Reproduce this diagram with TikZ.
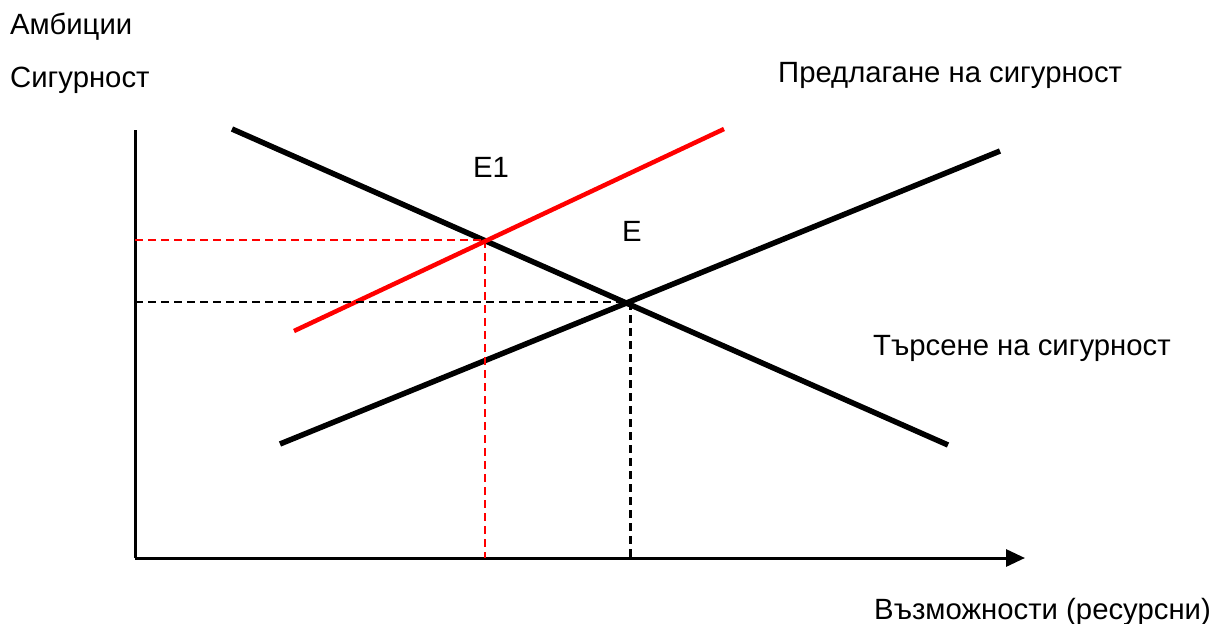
\documentclass[tikz,border=0pt]{standalone}
\usepackage{fontspec}
\setmainfont{Liberation Sans}
\usetikzlibrary{arrows.meta}
\begin{document}
\begin{tikzpicture}[x=1pt,y=-1pt,
  lbl/.style={anchor=base west,inner sep=0pt,font=\fontsize{29.3}{33}\selectfont},
  axisline/.style={line width=3pt},
  curve/.style={line width=5.5pt},
  redcurve/.style={line width=4.5pt,red},
  reddash/.style={line width=1.5pt,red,dash pattern=on 8pt off 5pt},
  blackdash/.style={line width=2pt,dash pattern=on 8pt off 5pt},
  blackdashv/.style={line width=3pt,dash pattern=on 8pt off 5pt}]
\useasboundingbox (0,0) rectangle (1219,624);
% axes
\coordinate (O) at (135,558);
\coordinate (Ytop) at (135,130);
\coordinate (Xend) at (1025,558);
\draw[axisline] (Ytop) -- (O);
\draw[axisline,-{Triangle[length=19pt,width=17pt]}] (O) -- (Xend);
% curves
\coordinate (D1) at (232,129);
\coordinate (D2) at (948,445);
\coordinate (S1) at (280,444);
\coordinate (S2) at (1000,151);
\coordinate (R1) at (294,331);
\coordinate (R2) at (724,129);
\draw[curve] (D1) -- (D2);
\draw[curve] (S1) -- (S2);
\draw[redcurve] (R1) -- (R2);
% equilibria
\coordinate (E1p) at (485,240);
\coordinate (Ep) at (630,302);
\coordinate (E1y) at (135,240);
\coordinate (E1x) at (485,558);
\coordinate (Ey) at (135,302);
\coordinate (Ex) at (630,558);
\draw[reddash] (E1y) -- (E1p);
\draw[reddash] (E1p) -- (E1x);
\draw[blackdash] (Ey) -- (Ep);
\draw[blackdashv] (Ep) -- (Ex);
% labels
\node[lbl] (amb) at (10,34) {Амбиции};
\node[lbl] (sig) at (10,87) {Сигурност};
\node[lbl] (supply) at (778,82) {Предлагане на сигурност};
\node[lbl] (e1) at (473,177) {E1};
\node[lbl] (e) at (622,241) {E};
\node[lbl] (demand) at (873,355) {Търсене на сигурност};
\node[lbl] (xlab) at (874,619) {Възможности (ресурсни)};
\end{tikzpicture}
\end{document}
